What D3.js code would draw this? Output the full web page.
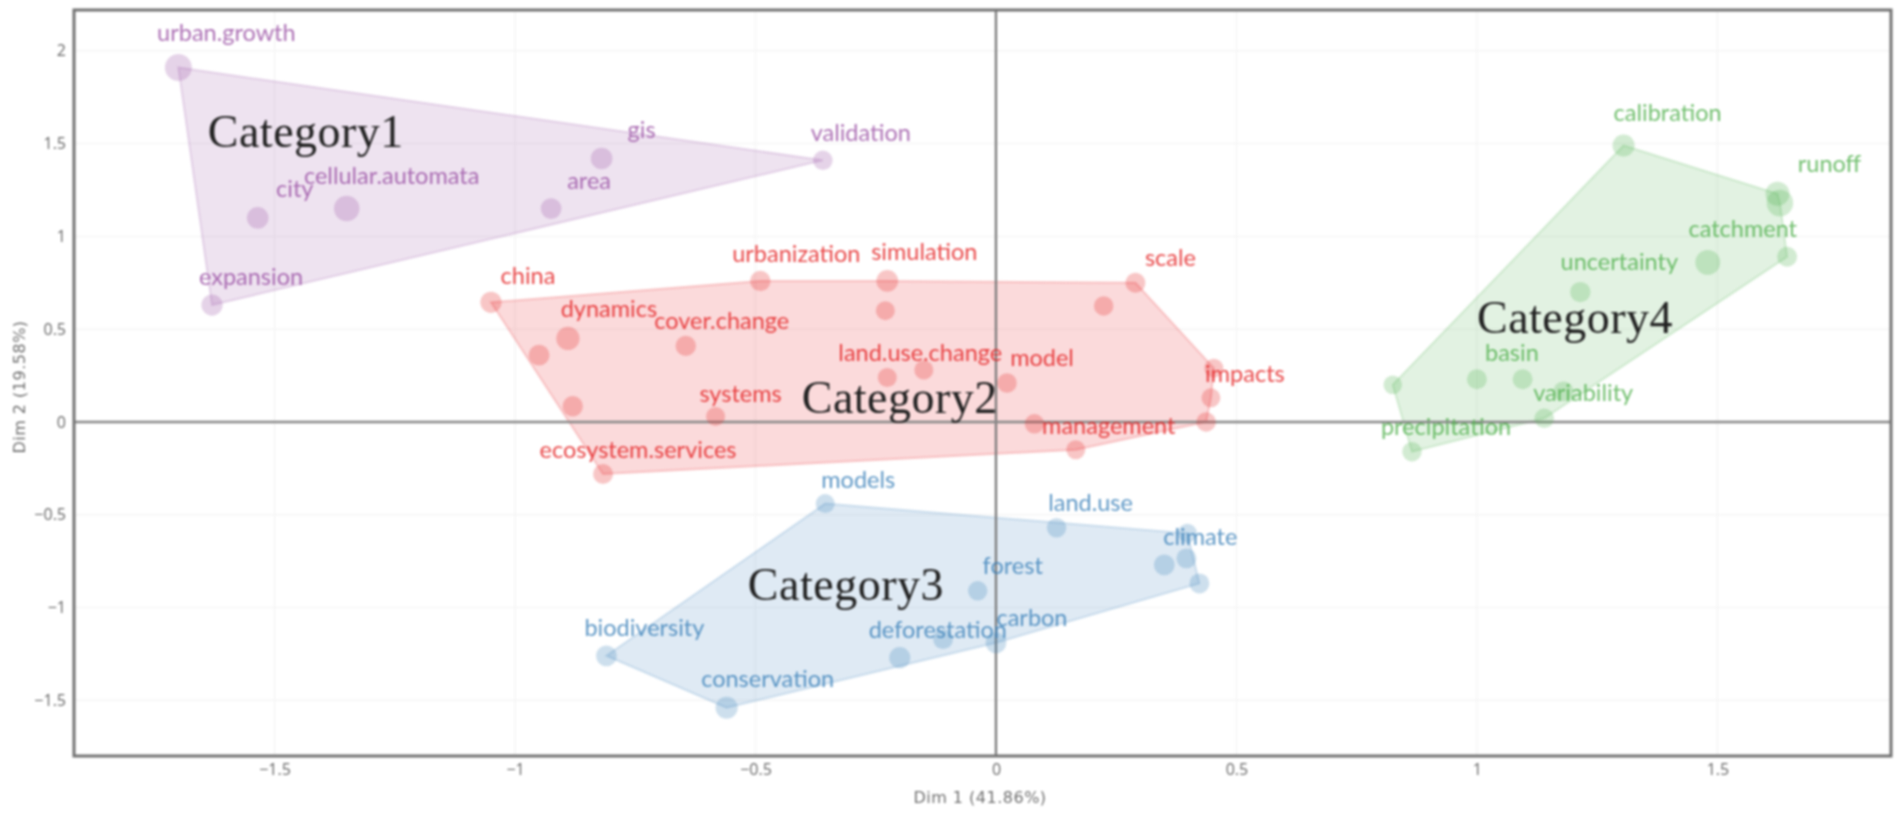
<!DOCTYPE html>
<html>
<head>
<meta charset="utf-8">
<script src="https://cdn.jsdelivr.net/npm/d3@7"></script>
<style>
  html, body { margin: 0; padding: 0; background: #fff; overflow: hidden; }
  svg { display: block; filter: blur(0.8px); }
</style>
</head>
<body>
<div id="chart"></div>
<script>
// values, one set of arrays per category
const categories = ["Category1", "Category2", "Category3", "Category4"];

const cat1Terms = ["urban.growth", "expansion", "validation", "gis", "area", "cellular.automata", "city"];
const cat1X = [-1.70, -1.63, -0.36, -0.82, -0.925, -1.35, -1.535];
const cat1Y = [1.91, 0.63, 1.41, 1.42, 1.15, 1.15, 1.10];
const cat1Size = [2.0, 1.25, 1.05, 1.3, 1.2, 1.8, 1.3];

const cat2Terms = ["china", "urbanization", "simulation", "scale", "", "", "dynamics", "", "cover.change", "", "land.use.change", "model", "", "impacts", "", "systems", "", "", "management", "ecosystem.services"];
const cat2X = [-1.05, -0.49, -0.226, 0.29, 0.224, -0.23, -0.89, -0.95, -0.645, -0.15, -0.226, 0.023, 0.453, 0.447, 0.437, -0.583, -0.88, 0.08, 0.166, -0.817];
const cat2Y = [0.645, 0.76, 0.76, 0.75, 0.625, 0.60, 0.45, 0.36, 0.41, 0.28, 0.24, 0.21, 0.29, 0.13, 0.0, 0.03, 0.085, -0.01, -0.15, -0.28];
const cat2Size = [1.25, 1.15, 1.3, 1.1, 1.05, 1.0, 1.5, 1.2, 1.15, 1.0, 1.0, 1.05, 1.0, 1.0, 1.05, 1.0, 1.15, 1.05, 1.0, 1.1];

const cat3Terms = ["models", "land.use", "", "", "climate", "", "forest", "carbon", "", "deforestation", "biodiversity", "conservation"];
const cat3X = [-0.355, 0.126, 0.398, 0.396, 0.35, 0.423, -0.038, 0.0, -0.11, -0.2, -0.81, -0.56];
const cat3Y = [-0.44, -0.57, -0.6, -0.735, -0.77, -0.87, -0.91, -1.19, -1.17, -1.27, -1.26, -1.54];
const cat3Size = [1.0, 1.05, 1.0, 1.1, 1.2, 1.1, 1.05, 1.2, 1.1, 1.25, 1.2, 1.35];

const cat4Terms = ["calibration", "runoff", "", "", "catchment", "uncertainty", "basin", "", "", "", "variability", "precipitation"];
const cat4X = [1.305, 1.625, 1.63, 1.645, 1.48, 1.215, 1.0, 1.095, 0.825, 1.18, 1.14, 0.865];
const cat4Y = [1.49, 1.23, 1.18, 0.89, 0.86, 0.70, 0.23, 0.23, 0.20, 0.165, 0.02, -0.16];
const cat4Size = [1.35, 1.6, 1.95, 1.1, 1.7, 1.15, 1.1, 1.1, 0.95, 1.1, 1.05, 1.05];

const xTicks = [-1.5, -1, -0.5, 0, 0.5, 1, 1.5];
const yTicks = [-1.5, -1, -0.5, 0, 0.5, 1, 1.5, 2];
const xTitle = "Dim 1 (41.86%)";
const yTitle = "Dim 2 (19.58%)";

// layout
const svg_width = 1902;
const svg_height = 815;
const margin = {top: 10, right: 11, bottom: 59, left: 74};
const colors = ["#984ea3", "#e41a1c", "#377eb8", "#4daf4a"];

// where each word sits relative to its point, in pixels
const labelNudge = {
  "urban.growth": [48, -35], "expansion": [39, -28], "validation": [38, -28], "gis": [40, -29],
  "area": [38, -28], "cellular.automata": [45, -33], "city": [37, -29],
  "china": [37, -27], "urbanization": [36, -27], "simulation": [37, -29], "scale": [35, -25],
  "dynamics": [41, -30], "cover.change": [36, -25], "land.use.change": [33, -25], "model": [35, -25],
  "impacts": [34, -24], "systems": [25, -23], "management": [33, -24], "ecosystem.services": [35, -24],
  "models": [33, -24], "land.use": [34, -25], "climate": [36, -28], "forest": [35, -25],
  "carbon": [36, -25], "deforestation": [38, -28], "biodiversity": [38, -28], "conservation": [41, -29],
  "calibration": [44, -33], "runoff": [52, -30], "catchment": [35, -34], "uncertainty": [39, -30],
  "basin": [35, -27], "variability": [39, -25], "precipitation": [34, -25]
};

// big category names, placed in data units
const catLabelX = [-1.435, -0.2, -0.312, 1.204];
const catLabelY = [1.57, 0.137, -0.873, 0.567];

const clusters = [
  {terms: cat1Terms, xs: cat1X, ys: cat1Y, sizes: cat1Size},
  {terms: cat2Terms, xs: cat2X, ys: cat2Y, sizes: cat2Size},
  {terms: cat3Terms, xs: cat3X, ys: cat3Y, sizes: cat3Size},
  {terms: cat4Terms, xs: cat4X, ys: cat4Y, sizes: cat4Size}
];

const svg = d3.select("#chart")
  .append("svg")
    .attr("width", svg_width)
    .attr("height", svg_height);

const x = d3.scaleLinear()
  .domain([-1.917, 1.861])
  .range([margin.left, svg_width - margin.right]);
const y = d3.scaleLinear()
  .domain([-1.8, 2.22])
  .range([svg_height - margin.bottom, margin.top]);
const r = d3.scaleSqrt().domain([0, 1]).range([0, 9.5]);

const tickFormat = d => d3.format("")(d).replace("-", "\u2212");

// grid
svg.append("g").selectAll("line").data(xTicks.filter(d => d !== 0)).join("line")
    .attr("x1", d => x(d)).attr("x2", d => x(d))
    .attr("y1", y.range()[1]).attr("y2", y.range()[0])
    .attr("stroke", "#f5f5f5").attr("stroke-width", 1.5);
svg.append("g").selectAll("line").data(yTicks.filter(d => d !== 0)).join("line")
    .attr("x1", x.range()[0]).attr("x2", x.range()[1])
    .attr("y1", d => y(d)).attr("y2", d => y(d))
    .attr("stroke", "#f5f5f5").attr("stroke-width", 1.5);

// hulls
clusters.forEach((c, i) => {
  const pts = c.xs.map((v, j) => [x(v), y(c.ys[j])]);
  svg.append("path")
    .attr("d", "M" + d3.polygonHull(pts).join("L") + "Z")
    .attr("fill", colors[i])
    .attr("fill-opacity", 0.16)
    .attr("stroke", colors[i])
    .attr("stroke-opacity", 0.2)
    .attr("stroke-width", 2);
});

// zero lines
svg.append("line")
    .attr("x1", x(0)).attr("x2", x(0))
    .attr("y1", y.range()[1]).attr("y2", y.range()[0])
    .attr("stroke", "#777").attr("stroke-width", 2.2);
svg.append("line")
    .attr("x1", x.range()[0]).attr("x2", x.range()[1])
    .attr("y1", y(0)).attr("y2", y(0))
    .attr("stroke", "#888").attr("stroke-width", 2.6);

// points
clusters.forEach((c, i) => {
  svg.append("g").selectAll("circle").data(c.xs).join("circle")
      .attr("cx", d => x(d))
      .attr("cy", (d, j) => y(c.ys[j]))
      .attr("r", (d, j) => r(c.sizes[j]))
      .attr("fill", colors[i])
      .attr("fill-opacity", 0.25);
});

// frame
svg.append("rect")
    .attr("x", margin.left).attr("y", margin.top)
    .attr("width", svg_width - margin.left - margin.right)
    .attr("height", svg_height - margin.top - margin.bottom)
    .attr("fill", "none")
    .attr("stroke", "#727272").attr("stroke-width", 3);

// axes
const xAxis = svg.append("g")
    .attr("transform", `translate(0,${svg_height - margin.bottom})`)
    .call(d3.axisBottom(x).tickValues(xTicks).tickFormat(tickFormat).tickSize(0).tickPadding(8));
const yAxis = svg.append("g")
    .attr("transform", `translate(${margin.left},0)`)
    .call(d3.axisLeft(y).tickValues(yTicks).tickFormat(tickFormat).tickSize(0).tickPadding(8));
[xAxis, yAxis].forEach(a => {
  a.select(".domain").remove();
  a.selectAll("text")
    .attr("font-family", "'Open Sans', sans-serif")
    .attr("font-size", 16)
    .attr("fill", "#666");
});

svg.append("text")
    .attr("x", 980).attr("y", 803)
    .attr("text-anchor", "middle")
    .attr("font-family", "'DejaVu Sans', sans-serif")
    .attr("font-size", 16)
    .attr("letter-spacing", 0.5)
    .attr("fill", "#707070")
    .text(xTitle);
svg.append("text")
    .attr("transform", "translate(25,387) rotate(-90)")
    .attr("text-anchor", "middle")
    .attr("font-family", "'DejaVu Sans', sans-serif")
    .attr("font-size", 16)
    .attr("letter-spacing", 0.5)
    .attr("fill", "#707070")
    .text(yTitle);

// word labels
clusters.forEach((c, i) => {
  c.terms.forEach((t, j) => {
    if (!t) return;
    svg.append("text")
      .attr("x", x(c.xs[j]) + labelNudge[t][0])
      .attr("y", y(c.ys[j]) + labelNudge[t][1])
      .attr("dy", "0.35em")
      .attr("text-anchor", "middle")
      .attr("font-family", "'Lato', sans-serif")
      .attr("font-size", 23.5)
      .attr("fill", colors[i])
      .attr("fill-opacity", 0.8)
      .text(t);
  });
});

// category names
categories.forEach((name, i) => {
  svg.append("text")
    .attr("x", x(catLabelX[i]))
    .attr("y", y(catLabelY[i]))
    .attr("dy", "0.35em")
    .attr("text-anchor", "middle")
    .attr("font-family", "'Liberation Serif', serif")
    .attr("font-size", 46)
    .attr("letter-spacing", 0.5)
    .attr("fill", "#222")
    .text(name);
});
</script>
</body>
</html>
